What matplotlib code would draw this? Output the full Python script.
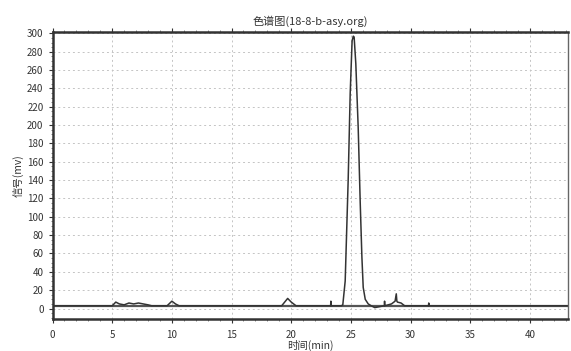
import matplotlib
matplotlib.use("Agg")
import matplotlib.pyplot as plt
from matplotlib.ticker import MultipleLocator

plt.rcParams['font.family'] = ['Noto Sans CJK SC', 'DejaVu Sans']

# chromatogram trace (time in min, signal in mV)
time_min = [0.0, 5.0, 5.3, 5.6, 6.0, 6.4, 6.8, 7.2, 7.6, 8.0, 8.3, 8.6, 9.6, 10.0, 10.3, 10.6,
            19.2, 19.7, 20.0, 20.4, 23.3, 23.32, 23.34, 24.2, 24.32, 24.52, 24.77, 24.94,
            25.1, 25.2, 25.27, 25.41, 25.61, 25.78, 25.92, 26.03, 26.2, 26.45, 26.7, 27.0,
            27.8, 27.82, 27.84, 28.4, 28.7, 28.8, 28.85, 28.9, 29.2, 29.5, 31.5, 31.52,
            31.54, 44.0]
signal_mv = [3, 3, 7, 5, 4, 6, 5, 6, 5, 4, 3, 3, 3, 8, 5, 3,
             3, 11, 7, 3, 3, 8, 3, 3, 4, 30, 140, 235,
             292, 297, 296, 267, 197, 115, 56, 23, 10, 5, 3, 1,
             3, 8, 3, 5, 8, 16, 8, 7, 6, 3, 3, 6,
             3, 3]

x_ticks = [0, 5, 10, 15, 20, 25, 30, 35, 40]
y_ticks = list(range(0, 301, 20))

fig = plt.figure(figsize=(5.71, 3.51), dpi=100)
ax = fig.add_axes([0.092, 0.091, 0.903, 0.818])

ax.plot(time_min, signal_mv, color="#333333", lw=1.1)
ax.axhline(3, color="#555555", lw=1.6, zorder=1)

ax.set_xlim(0, 43.2)
ax.set_ylim(-11.5, 301.6)
ax.set_xticks(x_ticks)
ax.set_yticks(y_ticks)
ax.yaxis.set_minor_locator(MultipleLocator(5))
ax.xaxis.set_minor_locator(MultipleLocator(1))
ax.grid(True, which="major", color="#c4c4c4", ls=(0, (2, 3)), lw=0.7)
ax.tick_params(axis="both", which="major", labelsize=7, length=3, width=0.8, colors="#333333")
ax.tick_params(axis="both", which="minor", length=1.5, width=0.5, colors="#555555")
ax.tick_params(axis="x", which="both", top=True, pad=5)

for side in ("left", "bottom", "top"):
    ax.spines[side].set_linewidth(1.8)
    ax.spines[side].set_color("#333333")
ax.spines["right"].set_linewidth(1.0)
ax.spines["right"].set_color("#666666")

ax.set_title("色谱图(18-8-b-asy.org)", fontsize=8, color="#333333", pad=5)
ax.set_xlabel("时间(min)", fontsize=7.5, color="#333333", labelpad=0)
ax.set_ylabel("信号(mv)", fontsize=7.5, color="#333333", labelpad=2)

fig.savefig("out.png", dpi=100)
